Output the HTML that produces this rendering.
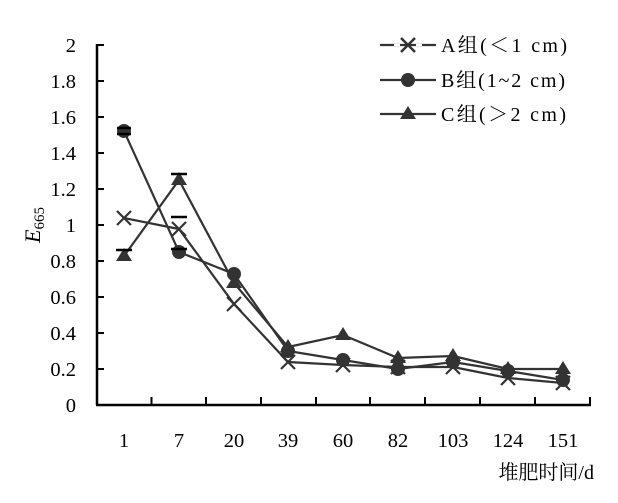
<!DOCTYPE html>
<html><head><style>body{margin:0;background:#fff}</style></head><body>
<svg width="618" height="498" xmlns="http://www.w3.org/2000/svg" font-family="'Liberation Serif','Noto Serif CJK SC',serif" fill="#000">
<g stroke="#000" stroke-width="2.5">
<line x1="97" y1="405" x2="97" y2="44"/>
<line x1="96" y1="405" x2="591" y2="405"/>
</g>
<g stroke="#000" stroke-width="2">
<line x1="97" y1="45" x2="104" y2="45"/><line x1="97" y1="81" x2="104" y2="81"/><line x1="97" y1="117" x2="104" y2="117"/><line x1="97" y1="153" x2="104" y2="153"/><line x1="97" y1="189" x2="104" y2="189"/><line x1="97" y1="225" x2="104" y2="225"/><line x1="97" y1="261" x2="104" y2="261"/><line x1="97" y1="297" x2="104" y2="297"/><line x1="97" y1="333" x2="104" y2="333"/><line x1="97" y1="369" x2="104" y2="369"/>
<line x1="151.5" y1="405" x2="151.5" y2="397"/><line x1="206" y1="405" x2="206" y2="397"/><line x1="261" y1="405" x2="261" y2="397"/><line x1="316" y1="405" x2="316" y2="397"/><line x1="370" y1="405" x2="370" y2="397"/><line x1="425" y1="405" x2="425" y2="397"/><line x1="480" y1="405" x2="480" y2="397"/><line x1="535" y1="405" x2="535" y2="397"/><line x1="590" y1="405" x2="590" y2="397"/>
</g>
<g font-size="20.5" text-anchor="end">
<text x="76" y="52">2</text><text x="76" y="88">1.8</text><text x="76" y="124">1.6</text><text x="76" y="160">1.4</text><text x="76" y="196">1.2</text><text x="76" y="232">1</text><text x="76" y="268">0.8</text><text x="76" y="304">0.6</text><text x="76" y="340">0.4</text><text x="76" y="376">0.2</text><text x="76" y="412">0</text>
</g>
<g font-size="20.5" text-anchor="middle">
<text x="124" y="447">1</text><text x="179" y="447">7</text><text x="234" y="447">20</text><text x="288" y="447">39</text><text x="343" y="447">60</text><text x="398" y="447">82</text><text x="453" y="447">103</text><text x="508" y="447">124</text><text x="563" y="447">151</text>
</g>
<text x="594" y="479" font-size="20" text-anchor="end">堆肥时间/d</text>
<text transform="translate(40,225) rotate(-90)" font-size="22" text-anchor="middle"><tspan font-style="italic">E</tspan><tspan font-size="15" dy="4">665</tspan></text>
<g fill="none" stroke="#333" stroke-width="2.2">
<polyline points="124,218 179,229 234,304 288,362 343,365 398,367 453,367 508,378 563,383"/>
<polyline points="124,131 179,252 234,274 288,351 343,360 398,369 453,362 508,371 563,380"/>
<polyline points="124,256 179,180 234,283 288,347 343,335 398,358 453,356 508,369 563,369"/>
</g>
<g fill="#333">
<circle cx="124" cy="131" r="7"/><circle cx="179" cy="252" r="7"/><circle cx="234" cy="274" r="7"/><circle cx="288" cy="351" r="7"/><circle cx="343" cy="360" r="7"/><circle cx="398" cy="369" r="7"/><circle cx="453" cy="362" r="7"/><circle cx="508" cy="371" r="7"/><circle cx="563" cy="380" r="7"/>
<polygon points="124,248 116,261 132,261"/><polygon points="179,172 171,185 187,185"/><polygon points="234,275 226,288 242,288"/><polygon points="288,339 280,352 296,352"/><polygon points="343,327 335,340 351,340"/><polygon points="398,350 390,363 406,363"/><polygon points="453,348 445,361 461,361"/><polygon points="508,361 500,374 516,374"/><polygon points="563,361 555,374 571,374"/>
</g>
<g stroke="#000" stroke-width="2.5">
<line x1="117" y1="128" x2="131" y2="128"/><line x1="117" y1="134" x2="131" y2="134"/>
<line x1="116" y1="250" x2="132" y2="250"/><line x1="171" y1="174" x2="187" y2="174"/><line x1="171" y1="217" x2="187" y2="217"/><line x1="171" y1="249" x2="187" y2="249"/>
</g>
<g stroke="#333" stroke-width="2.2">
<path d="M117,211 l14,14 M131,211 l-14,14"/><path d="M172,222 l14,14 M186,222 l-14,14"/><path d="M227,297 l14,14 M241,297 l-14,14"/><path d="M281,355 l14,14 M295,355 l-14,14"/><path d="M336,358 l14,14 M350,358 l-14,14"/><path d="M391,360 l14,14 M405,360 l-14,14"/><path d="M446,360 l14,14 M460,360 l-14,14"/><path d="M501,371 l14,14 M515,371 l-14,14"/><path d="M556,376 l14,14 M570,376 l-14,14"/>
</g>
<g stroke="#333" stroke-width="2.2">
<line x1="380" y1="45" x2="436" y2="45"/><line x1="380" y1="80" x2="436" y2="80"/><line x1="380" y1="114" x2="436" y2="114"/>
<path d="M401,38 l14,14 M415,38 l-14,14" stroke-width="2.5"/>
</g>
<rect x="394" y="44" width="6" height="2" fill="#fff"/><rect x="416" y="44" width="6" height="2" fill="#fff"/>
<circle cx="408" cy="80" r="7" fill="#333"/>
<polygon points="408,106 400,119 416,119" fill="#333"/>
<g font-size="20">
<text x="441" y="52" textLength="126" lengthAdjust="spacing">A组(＜1 cm)</text>
<text x="441" y="87" textLength="124" lengthAdjust="spacing">B组(1~2 cm)</text>
<text x="441" y="121" textLength="125" lengthAdjust="spacing">C组(＞2 cm)</text>
</g>
</svg>
</body></html>
